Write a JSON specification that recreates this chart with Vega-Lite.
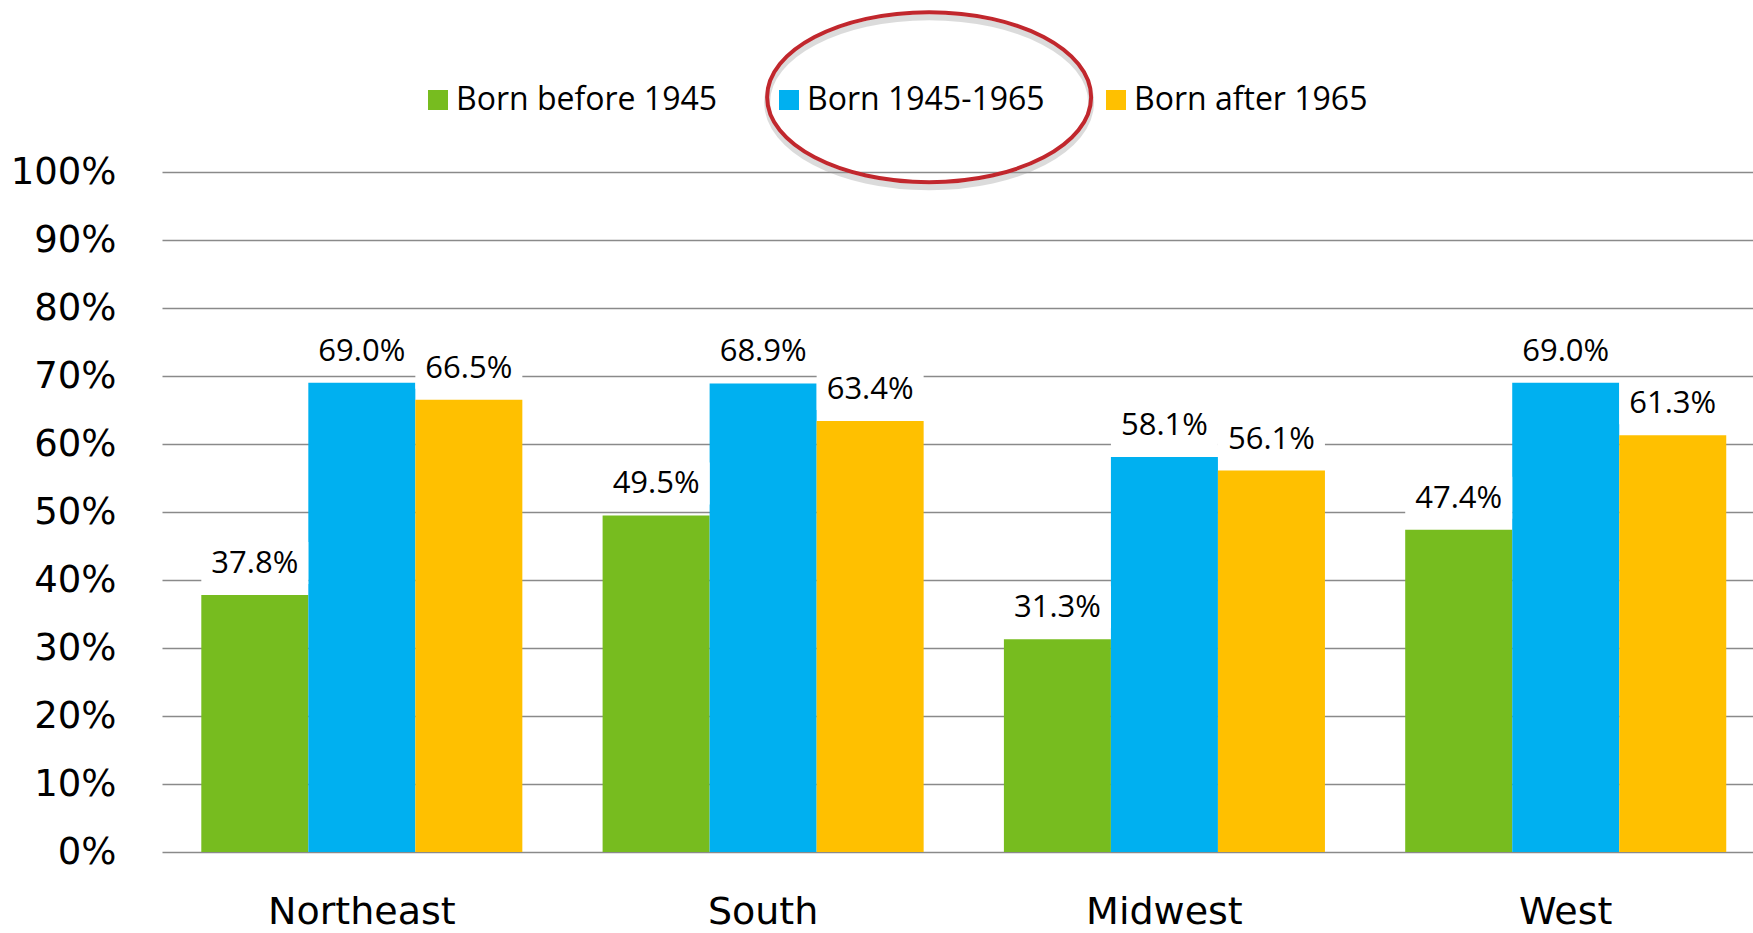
{
  "$schema": "https://vega.github.io/schema/vega-lite/v6.json",
  "width": 1591,
  "height": 680,
  "autosize": {"type": "none"},
  "padding": {"left": 162, "top": 172, "right": 0, "bottom": 81},
  "background": "white",
  "config": {"view": {"stroke": null}},
  "data": {
    "values": [
      {"region": "Northeast", "cohort": "Born before 1945", "value": 0.378},
      {"region": "Northeast", "cohort": "Born 1945-1965", "value": 0.690},
      {"region": "Northeast", "cohort": "Born after 1965", "value": 0.665},
      {"region": "South", "cohort": "Born before 1945", "value": 0.495},
      {"region": "South", "cohort": "Born 1945-1965", "value": 0.689},
      {"region": "South", "cohort": "Born after 1965", "value": 0.634},
      {"region": "Midwest", "cohort": "Born before 1945", "value": 0.313},
      {"region": "Midwest", "cohort": "Born 1945-1965", "value": 0.581},
      {"region": "Midwest", "cohort": "Born after 1965", "value": 0.561},
      {"region": "West", "cohort": "Born before 1945", "value": 0.474},
      {"region": "West", "cohort": "Born 1945-1965", "value": 0.690},
      {"region": "West", "cohort": "Born after 1965", "value": 0.613}
    ]
  },
  "layer": [
    {
      "mark": {"type": "bar"},
      "encoding": {
        "x": {
          "field": "region", "type": "nominal",
          "sort": ["Northeast", "South", "Midwest", "West"],
          "scale": {"paddingInner": 0.2, "paddingOuter": 0.0823, "align": 0.595},
          "axis": {"title": null, "ticks": false, "domain": false, "grid": false, "labelAngle": 0, "labelLimit": 500,
                   "labelFont": "DejaVu Sans", "labelFontSize": 38, "labelColor": "black", "labelPadding": 41}
        },
        "xOffset": {
          "field": "cohort", "type": "nominal",
          "sort": ["Born before 1945", "Born 1945-1965", "Born after 1965"],
          "scale": {"paddingInner": 0, "paddingOuter": 0}
        },
        "y": {
          "field": "value", "type": "quantitative",
          "scale": {"domain": [0, 1], "nice": false},
          "axis": {"title": null, "format": ".0%", "values": [0, 0.1, 0.2, 0.3, 0.4, 0.5, 0.6, 0.7, 0.8, 0.9, 1],
                   "ticks": false, "domain": false, "grid": true, "gridColor": "#8a8a8a", "gridWidth": 1.5,
                   "labelFont": "DejaVu Sans", "labelFontSize": 37, "labelColor": "black", "labelPadding": 46}
        },
        "color": {
          "field": "cohort", "type": "nominal",
          "scale": {"domain": ["Born before 1945", "Born 1945-1965", "Born after 1965"],
                    "range": ["#77BC1F", "#00B0F0", "#FFC000"]},
          "legend": {"title": null, "orient": "none", "legendX": 260, "legendY": -88, "direction": "horizontal",
                     "symbolType": "square", "symbolSize": 400, "symbolStrokeWidth": 0, "symbolOpacity": 1,
                     "labelFont": "Open Sans", "labelFontSize": 32, "labelColor": "black", "labelLimit": 400,
                     "labelOffset": 2, "columnPadding": 55, "padding": 0}
        }
      }
    },
    {
      "mark": {"type": "tick", "color": "white", "opacity": 1, "size": 107, "thickness": 42, "yOffset": -32},
      "encoding": {
        "x": {"field": "region", "type": "nominal", "sort": ["Northeast", "South", "Midwest", "West"]},
        "xOffset": {"field": "cohort", "type": "nominal", "sort": ["Born before 1945", "Born 1945-1965", "Born after 1965"]},
        "y": {"field": "value", "type": "quantitative"}
      }
    },
    {
      "mark": {"type": "text", "font": "Open Sans", "fontSize": 31, "color": "black", "baseline": "middle", "yOffset": -31},
      "encoding": {
        "x": {"field": "region", "type": "nominal", "sort": ["Northeast", "South", "Midwest", "West"]},
        "xOffset": {"field": "cohort", "type": "nominal", "sort": ["Born before 1945", "Born 1945-1965", "Born after 1965"]},
        "y": {"field": "value", "type": "quantitative"},
        "text": {"field": "value", "type": "quantitative", "format": ".1%"}
      }
    },
    {
      "data": {"values": [{"note": "highlight"}]},
      "mark": {"type": "point", "filled": false, "size": 40000, "stroke": "#9a9a9a", "strokeWidth": 6, "opacity": 0.35, "yOffset": 5,
               "shape": "M 3.28 0 C 3.28 0.4695 2.5547 0.85 1.66 0.85 C 0.7653 0.85 0.04 0.4695 0.04 0 C 0.04 -0.4695 0.7653 -0.85 1.66 -0.85 C 2.5547 -0.85 3.28 -0.4695 3.28 0 Z"},
      "encoding": {
        "x": {"datum": "South", "type": "nominal"},
        "y": {"datum": 1.11, "type": "quantitative"}
      }
    },
    {
      "data": {"values": [{"note": "highlight"}]},
      "mark": {"type": "point", "filled": false, "size": 40000, "stroke": "#C1272D", "strokeWidth": 4, "opacity": 1,
               "shape": "M 3.28 0 C 3.28 0.4695 2.5547 0.85 1.66 0.85 C 0.7653 0.85 0.04 0.4695 0.04 0 C 0.04 -0.4695 0.7653 -0.85 1.66 -0.85 C 2.5547 -0.85 3.28 -0.4695 3.28 0 Z"},
      "encoding": {
        "x": {"datum": "South", "type": "nominal"},
        "y": {"datum": 1.11, "type": "quantitative"}
      }
    }
  ]
}
